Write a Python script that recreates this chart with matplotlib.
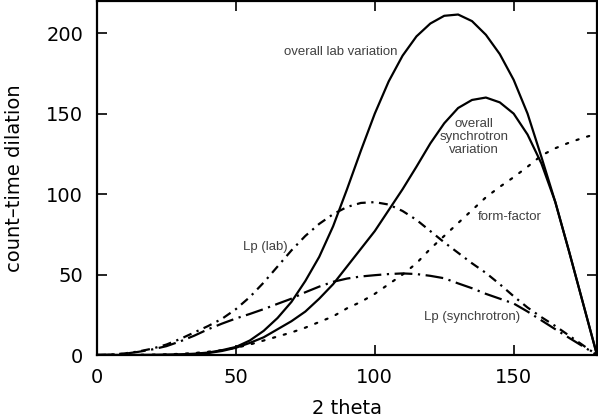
import matplotlib
matplotlib.use("Agg")
import matplotlib.pyplot as plt

two_theta = list(range(0, 181, 5))

overall_lab = [0, 0, 0, 0, 0.1, 0.2, 0.4, 0.8, 1.5, 3, 5, 9, 15, 23, 33, 46, 61, 80, 103, 127,
               150, 170, 186, 198, 206, 210.8, 211.6, 207.5, 199, 187, 171, 150, 123, 95, 64, 32, 0]
overall_sync = [0, 0, 0, 0, 0, 0.1, 0.2, 0.5, 1.2, 2.5, 4.5, 7.5, 11, 16, 21, 27, 35, 44, 55, 66,
                77, 90, 103, 117, 131.5, 144, 153.5, 158.5, 160, 157, 150, 137, 119, 95, 64, 32, 0]
form_factor = [0, 0, 0, 0.1, 0.2, 0.4, 0.7, 1.2, 2, 3, 4.5, 6.5, 9, 11.5, 14, 17, 20.5, 24, 29, 33,
               38, 44, 50, 57, 66, 74, 82, 90, 98, 104.5, 110.5, 117, 124, 128.5, 132, 135, 137.5]
lp_lab = [0, 0.2, 1, 2.2, 4, 6.5, 10, 14, 18, 22.5, 28.5, 36, 45, 55, 65, 74, 81.5, 87.5, 92, 94.5,
          95, 93.5, 89.5, 84, 77, 70, 63.5, 57, 51, 44, 36.5, 29.5, 23.5, 18, 12, 6, 0]
lp_sync = [0, 0.2, 0.8, 2, 3.5, 5.5, 8.5, 12, 16, 19.5, 22.7, 25.5, 28.5, 31.8, 35, 39, 42.5, 45.5,
           47.5, 48.8, 49.6, 50.3, 50.7, 50.3, 49.2, 47.7, 44.5, 41.5, 38, 35, 32, 27, 21.5, 16,
           10.6, 5.3, 0]

x_ticks = [0, 50, 100, 150]
y_ticks = [0, 50, 100, 150, 200]

fig = plt.figure(figsize=(5.98, 4.19), dpi=100)
ax = fig.add_axes([97 / 598, 1 - 355 / 419, 500 / 598, 354 / 419])

ax.plot(two_theta, overall_lab, color="black", lw=1.6, ls="-")
ax.plot(two_theta, overall_sync, color="black", lw=1.6, ls="-")
ax.plot(two_theta, form_factor, color="black", lw=1.6, ls=(0, (1, 4)), dash_capstyle="round")
ax.plot(two_theta, lp_lab, color="black", lw=1.6, ls=(0, (4, 2.5, 1, 2.5)))
ax.plot(two_theta, lp_sync, color="black", lw=1.6, ls=(0, (8, 2.5, 1, 2.5)))

ax.set_xlim(0, 180)
ax.set_ylim(0, 220)
ax.set_xticks(x_ticks)
ax.set_yticks(y_ticks)
ax.tick_params(direction="in", length=7.5, width=1.2, top=True, right=True,
               labelsize=14, pad=10)
ax.tick_params(axis="x", pad=9)
for s in ax.spines.values():
    s.set_linewidth(1.6)

ax.set_xlabel("2 theta", fontsize=14, labelpad=9)
ax.set_ylabel("count–time dilation", fontsize=14, labelpad=16)

lab_kw = dict(fontsize=9.5, color="#404040", family="Liberation Sans")
ax.text(87.8, 188, "overall lab variation", ha="center", va="center", **lab_kw)
ax.text(135.7, 135.6, "overall\nsynchrotron\nvariation", ha="center", va="center",
        linespacing=1.1, **lab_kw)
ax.text(148.7, 85.9, "form-factor", ha="center", va="center", **lab_kw)
ax.text(60.7, 66.9, "Lp (lab)", ha="center", va="center", **lab_kw)
ax.text(135.1, 23.4, "Lp (synchrotron)", ha="center", va="center", **lab_kw)

fig.savefig("out.png", dpi=100)
